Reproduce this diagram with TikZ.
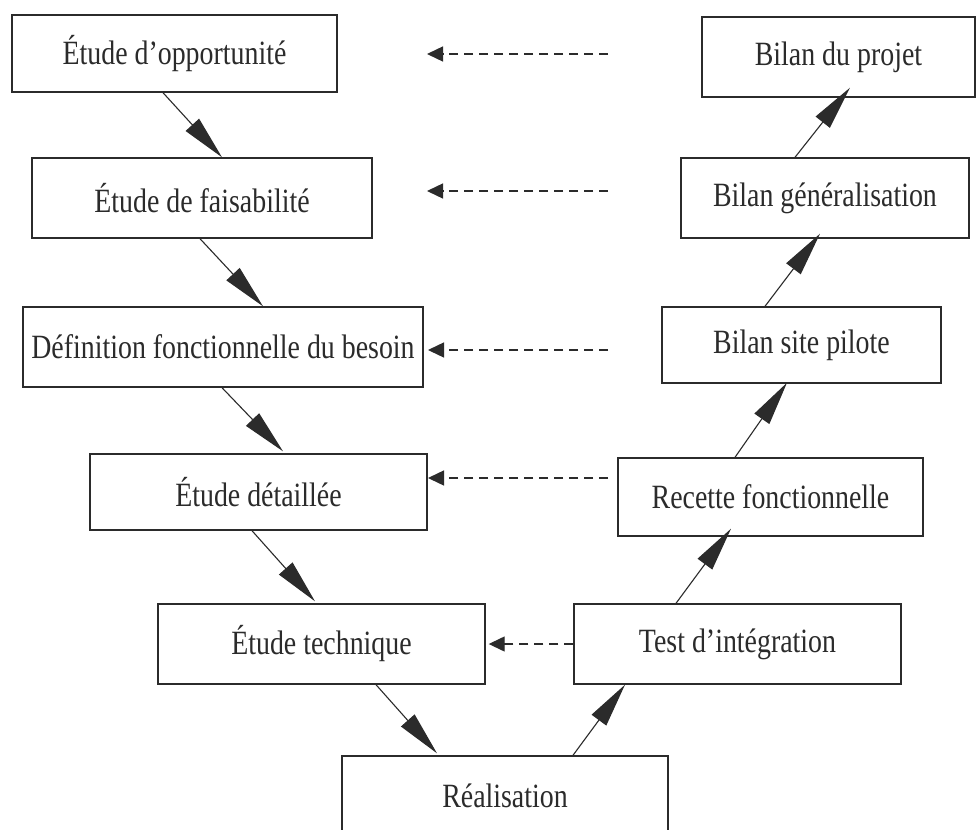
\documentclass[tikz,border=0pt]{standalone}
\usepackage{fontspec}
\setmainfont{Liberation Serif}[FakeStretch=0.82]
\usetikzlibrary{arrows.meta}
\definecolor{ink}{HTML}{2B2B2B}
\begin{document}
\begin{tikzpicture}[x=1pt,y=1pt,
  phase/.style={draw=ink, line width=1.4pt, text=ink, inner sep=0pt,
                font=\fontsize{34}{40}\selectfont},
  flow/.style={draw=ink, line width=1.1pt,
               -{Triangle[length=44pt,width=18pt]}},
  feedback/.style={draw=ink, line width=1.4pt, dash pattern=on 9pt off 6pt,
                   -{Triangle[length=16pt,width=15pt]}}
]
\useasboundingbox (0,0) rectangle (976,-829);
\fill[white] (0,0) rectangle (976,-829);

% descending branch
\node[phase, minimum width=325pt, minimum height=77pt] (opp)  at (174.5,-53.5) {Étude d'opportunité};
\node[phase, minimum width=340pt, minimum height=80pt] (fais) at (202,-198)    {Étude de faisabilité};
\node[phase, minimum width=400pt, minimum height=80pt] (def)  at (223,-347)    {Définition fonctionnelle du besoin};
\node[phase, minimum width=337pt, minimum height=76pt] (det)  at (258.5,-492)  {Étude détaillée};
\node[phase, minimum width=327pt, minimum height=80pt] (tech) at (321.5,-644)  {Étude technique};

% bottom of the V
\node[phase, minimum width=326pt, minimum height=80pt] (real) at (505,-796)    {Réalisation};

% ascending branch
\node[phase, minimum width=327pt, minimum height=80pt] (test) at (737.5,-644)  {Test d'intégration};
\node[phase, minimum width=305pt, minimum height=78pt] (rec)  at (770.5,-497)  {Recette fonctionnelle};
\node[phase, minimum width=279pt, minimum height=76pt] (site) at (801.5,-345)  {Bilan site pilote};
\node[phase, minimum width=288pt, minimum height=80pt] (gen)  at (825,-198)    {Bilan généralisation};
\node[phase, minimum width=273pt, minimum height=80pt] (proj) at (838.5,-57)   {Bilan du projet};

% sequence arrows
\draw[flow] ([xshift=-11.5pt]opp.south) -- ([xshift=20pt]fais.north);
\draw[flow] ([xshift=-2pt]fais.south)   -- ([xshift=40pt]def.north);
\draw[flow] ([xshift=-1pt]def.south)    -- ([xshift=24.5pt,yshift=2pt]det.north);
\draw[flow] ([xshift=-6.5pt]det.south)  -- ([xshift=-6.5pt,yshift=2pt]tech.north);
\draw[flow] ([xshift=54.5pt]tech.south) -- ([xshift=-68pt,yshift=2pt]real.north);
\draw[flow] ([xshift=68pt]real.north)   -- ([xshift=-112.5pt]test.south);
\draw[flow] ([xshift=-61.5pt]test.north) -- ([xshift=-39.5pt,yshift=8pt]rec.south);
\draw[flow] ([xshift=-35.5pt]rec.north) -- ([xshift=-14.5pt,yshift=1pt]site.south);
\draw[flow] ([xshift=-36.5pt]site.north) -- ([xshift=-5pt,yshift=5pt]gen.south);
\draw[flow] ([xshift=-30pt]gen.north)   -- ([xshift=11.5pt,yshift=10pt]proj.south);

% feedback arrows
\coordinate (f1a) at (608,-54);  \coordinate (f1b) at (427,-54);
\coordinate (f2a) at (608,-191); \coordinate (f2b) at (427,-191);
\coordinate (f3a) at (608,-350); \coordinate (f3b) at (428,-350);
\coordinate (f4a) at (608,-478); \coordinate (f4b) at (428,-478);
\draw[feedback] (f1a) -- (f1b);
\draw[feedback] (f2a) -- (f2b);
\draw[feedback] (f3a) -- (f3b);
\draw[feedback] (f4a) -- (f4b);
\draw[feedback] (test.west) -- ([xshift=3pt]tech.east);
\end{tikzpicture}
\end{document}
